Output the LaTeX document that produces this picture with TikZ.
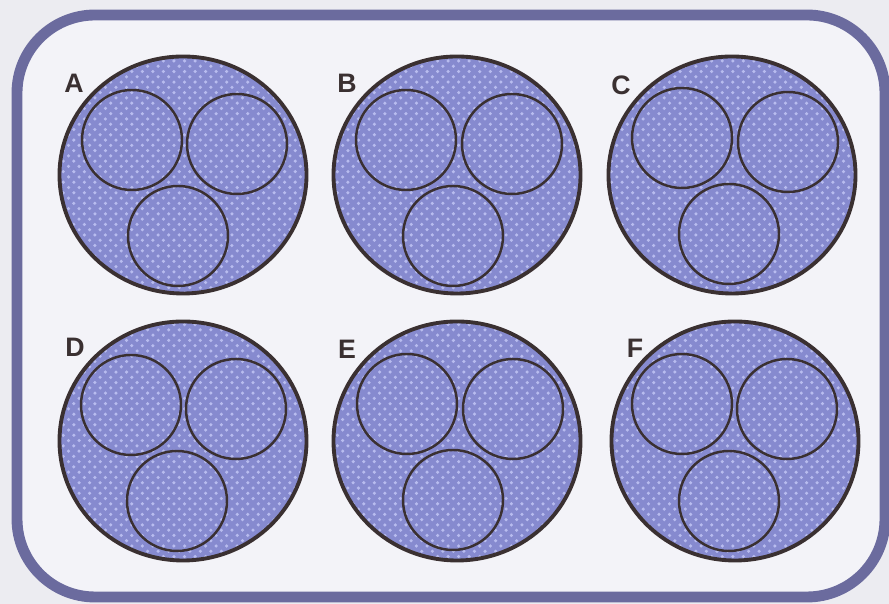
\documentclass[tikz,border=0pt]{standalone}
\usepackage{fontspec}
\setmainfont{Liberation Sans}
\usepackage{xcolor}
\usepackage{tikz}
\usetikzlibrary{shapes.geometric, positioning, patterns}

\definecolor{pagebg}{HTML}{ECECF1}
\definecolor{panelbg}{HTML}{F3F3F8}
\definecolor{frameblue}{HTML}{6B6B9E}
\definecolor{cellfill}{HTML}{868ACF}
\definecolor{celldots}{HTML}{B8BCEF}
\definecolor{cellline}{HTML}{3A3031}

\begin{document}
\begin{tikzpicture}[
    cell/.style={
        ellipse,
        draw=cellline,
        preaction={fill=cellfill},
        preaction={pattern=crosshatch dots, pattern color=celldots},
        line width=1.1pt,
        minimum width=2.47cm,
        minimum height=2.37cm,
        inner sep=0pt
    },
    subcell/.style={
        circle,
        draw=cellline,
        line width=0.7pt,
        minimum size=1.0cm,
        inner sep=0pt
    },
    tag/.style={
        font=\bfseries\fontsize{7.6}{9}\selectfont,
        text=cellline,
        inner sep=0pt
    }
]

% ==========================================
% FRAME
% ==========================================
\fill[pagebg] (0,0) rectangle (8.89,6.04);
\useasboundingbox (0,0) rectangle (8.89,6.04);
\draw[frameblue, fill=panelbg, line width=3.1pt, rounded corners=0.78cm]
    (0.17,0.07) rectangle (8.85,5.89);

% ==========================================
% TOP ROW
% ==========================================

% Cells
\node[cell] (cellA) at (1.83,4.29) {};
\node[cell] (cellB) at (4.57,4.29) {};
\node[cell] (cellC) at (7.32,4.29) {};

% Inner circles
\node[subcell] (a1) at ([shift={(-0.51,0.35)}]cellA.center) {};
\node[subcell] (a2) at ([shift={(0.54,0.31)}]cellA.center) {};
\node[subcell] (a3) at ([shift={(-0.05,-0.61)}]cellA.center) {};

\node[subcell] (b1) at ([shift={(-0.51,0.35)}]cellB.center) {};
\node[subcell] (b2) at ([shift={(0.55,0.31)}]cellB.center) {};
\node[subcell] (b3) at ([shift={(-0.04,-0.61)}]cellB.center) {};

\node[subcell] (c1) at ([shift={(-0.50,0.37)}]cellC.center) {};
\node[subcell] (c2) at ([shift={(0.56,0.33)}]cellC.center) {};
\node[subcell] (c3) at ([shift={(-0.03,-0.59)}]cellC.center) {};

% Labels
\node[tag] (tagA) at (0.74,5.21) {A};
\node[tag] (tagB) at (3.47,5.21) {B};
\node[tag] (tagC) at (6.21,5.19) {C};

% ==========================================
% BOTTOM ROW
% ==========================================

% Cells
\node[cell, minimum height=2.39cm] (cellD) at (1.83,1.63) {};
\node[cell, minimum height=2.39cm] (cellE) at (4.57,1.63) {};
\node[cell, minimum height=2.39cm] (cellF) at (7.35,1.63) {};

% Inner circles
\node[subcell] (d1) at ([shift={(-0.52,0.36)}]cellD.center) {};
\node[subcell] (d2) at ([shift={(0.53,0.32)}]cellD.center) {};
\node[subcell] (d3) at ([shift={(-0.06,-0.60)}]cellD.center) {};

\node[subcell] (e1) at ([shift={(-0.50,0.37)}]cellE.center) {};
\node[subcell] (e2) at ([shift={(0.56,0.32)}]cellE.center) {};
\node[subcell] (e3) at ([shift={(-0.04,-0.59)}]cellE.center) {};

\node[subcell] (f1) at ([shift={(-0.53,0.37)}]cellF.center) {};
\node[subcell] (f2) at ([shift={(0.52,0.32)}]cellF.center) {};
\node[subcell] (f3) at ([shift={(-0.06,-0.60)}]cellF.center) {};

% Labels
\node[tag] (tagD) at (0.75,2.57) {D};
\node[tag] (tagE) at (3.47,2.55) {E};
\node[tag] (tagF) at (6.35,2.56) {F};

\end{tikzpicture}
\end{document}
